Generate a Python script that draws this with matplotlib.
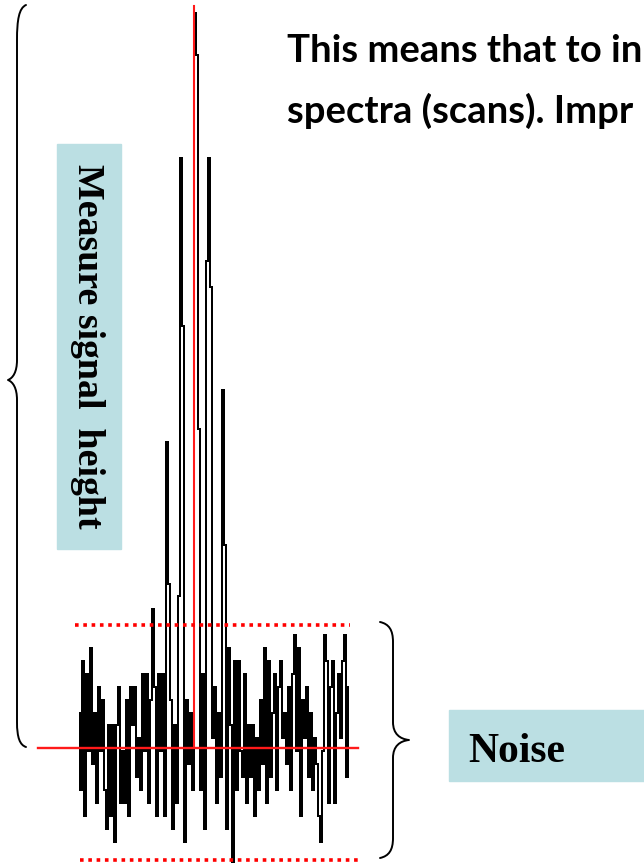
import matplotlib
matplotlib.use("Agg")
import matplotlib.pyplot as plt
from matplotlib.path import Path
from matplotlib.patches import PathPatch, Rectangle
import numpy as np

# ---------------- data ----------------
# signal intensity (arbitrary units, noise level quantised) for each scan point
signal = [
    3, -3, 7, -5, 6, 0, 8, -1, 3, -4,
    5, 0, 4, -3, -6, 2, -5, 2, -7, 2,
    5, -4, 0, -4, 4, -5, 5, 2, 5, -2,
    1, -3, 6, 0, 6, -4, 4, 11, 5, -5,
    6, 0, 6, -5, 24, 13, 4, -6, 2, -4,
    12, 46, 33, -7, 4, -1, 3, -3, 57.2, 54,
    25, -3, 6, -6, 38, 46, 36, 1, 5, -4,
    3, -2, 28, 16, -6, 8, 2, -8.6, 7, -3,
    7, 0, -2, 6, -4, 2, -2, 2, -5, 1,
    -3, 4, -1, 8, -4, 7, -2, 3, 6, -3,
    5, 7, 1, 3, -1, 5, -3, 6, 9, 0,
    8, -5, 4, 1, 5, -2, 3, -3, 1, -1,
    -5, -7, 0, 9, 7, -4, 5, 7, -4, 3,
    6, 1, 7, 9, -2, 5,
]
baseline_level = 0.25
noise_upper = 9.75
noise_lower = -8.43
peak_index = 57.25
peak_top = 57.75

heading_lines = ["This means that to in", "spectra (scans). Impr"]
label_signal = "Measure signal  height"
label_noise = "Noise"

# ---------------- figure ----------------
W, H = 644, 865
fig = plt.figure(figsize=(W / 100, H / 100), dpi=100)
fig.patch.set_facecolor("white")

overlay = fig.add_axes([0, 0, 1, 1])
overlay.set_xlim(0, W)
overlay.set_ylim(H, 0)
overlay.axis("off")

# spectrum axes: index i -> x px = 79 + 2 i ; level L -> y px = 751.2 - 12.9 L
y_lo, y_hi = -9, 58
px_lo, px_hi = 751.2 - 12.9 * y_lo, 751.2 - 12.9 * y_hi
n = len(signal)
ax = fig.add_axes([79 / W, (H - px_lo) / H, 2 * (n - 1) / W, (px_lo - px_hi) / H])
ax.set_xlim(0, n - 1)
ax.set_ylim(y_lo, y_hi)
ax.axis("off")
ax.patch.set_alpha(0)

x = np.arange(n)
ax.plot(x, signal, drawstyle="steps-mid", color="black", lw=1.2, clip_on=False,
        zorder=2, solid_joinstyle="miter", solid_capstyle="butt", antialiased=False)

# red reference lines
ax.plot([-20.5, 139.5], [baseline_level, baseline_level], color="#ff1a1a", lw=1.7,
        clip_on=False, zorder=3)
ax.plot([peak_index, peak_index], [baseline_level + 0.15, peak_top], color="#ff1a1a",
        lw=1.5, clip_on=False, zorder=3)
ax.plot([-2, 135.5], [noise_upper, noise_upper], color="#ff0000", lw=2.6,
        linestyle=(0, (1.0, 1.3)), clip_on=False, zorder=3)
ax.plot([0.5, 140.5], [noise_lower, noise_lower], color="#ff0000", lw=2.6,
        linestyle=(0, (1.0, 1.3)), clip_on=False, zorder=3)

# ---------------- braces ----------------
def brace(points_codes):
    verts = [p for p, c in points_codes]
    codes = [c for p, c in points_codes]
    return PathPatch(Path(verts, codes), fill=False, lw=1.4, ec="black",
                     capstyle="round", joinstyle="round")

M, L4, C = Path.MOVETO, Path.LINETO, Path.CURVE4
left = [((26, 5), M), ((19, 8), C), ((17, 20), C), ((17, 40), C),
        ((17, 360), L4), ((17, 372), C), ((13, 378), C), ((8, 380), C),
        ((13, 382), C), ((17, 388), C), ((17, 400), C),
        ((17, 722), L4), ((17, 738), C), ((20, 745), C), ((26, 747), C)]
overlay.add_patch(brace(left))

right = [((380, 622), M), ((389, 624), C), ((393, 630), C), ((393, 642), C),
         ((393, 722), L4), ((393, 734), C), ((400, 739), C), ((409, 740), C),
         ((400, 741), C), ((393, 746), C), ((393, 758), C),
         ((393, 838), L4), ((393, 850), C), ((389, 856), C), ((380, 858), C)]
overlay.add_patch(brace(right))

# ---------------- labels ----------------
box_color = "#bbdfe3"
overlay.add_patch(Rectangle((57, 144), 64, 405, color=box_color, zorder=1))
overlay.text(87, 346, label_signal, rotation=270, ha="center", va="center",
             family="Liberation Serif", fontweight="bold", fontsize=27.3, zorder=4)

overlay.add_patch(Rectangle((449, 710), 200, 71, color=box_color, zorder=1))
overlay.text(468, 762, label_noise, ha="left", va="baseline",
             family="Liberation Serif", fontweight="bold", fontsize=30, zorder=4)

overlay.text(287, 62, heading_lines[0], ha="left", va="baseline",
             family="Lato", fontweight="bold", fontsize=27.5, zorder=4)
overlay.text(287, 123, heading_lines[1], ha="left", va="baseline",
             family="Lato", fontweight="bold", fontsize=27.5, zorder=4)

fig.savefig("out.png", dpi=100)
